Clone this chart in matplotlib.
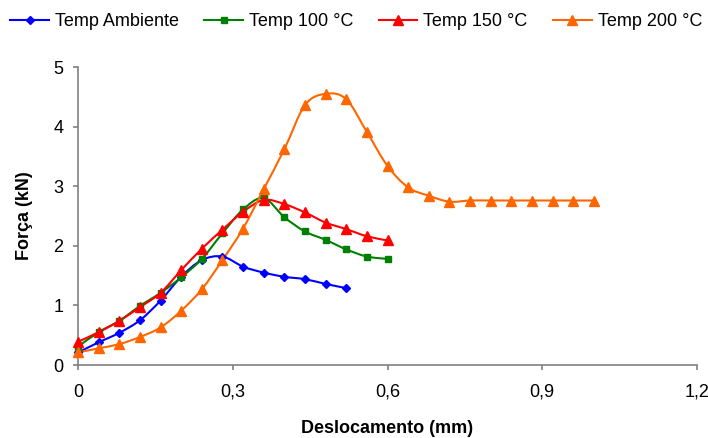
import numpy as np
import matplotlib
matplotlib.use("Agg")
import matplotlib.pyplot as plt
from matplotlib.path import Path
from matplotlib.patches import PathPatch
from matplotlib.lines import Line2D
from matplotlib.ticker import FuncFormatter

plt.rcParams['font.family'] = ['Liberation Sans', 'DejaVu Sans']

# deslocamento (mm), step 0.04
x_amb = [0, 0.04, 0.08, 0.12, 0.16, 0.20, 0.24, 0.28, 0.32, 0.36, 0.40, 0.44, 0.48, 0.52]
f_amb = [0.21, 0.38, 0.54, 0.75, 1.08, 1.48, 1.76, 1.82, 1.65, 1.55, 1.48, 1.44, 1.36, 1.29]

x_100 = [0, 0.04, 0.08, 0.12, 0.16, 0.20, 0.24, 0.28, 0.32, 0.36, 0.40, 0.44, 0.48, 0.52, 0.56, 0.60]
f_100 = [0.31, 0.55, 0.74, 0.99, 1.21, 1.47, 1.78, 2.21, 2.61, 2.80, 2.48, 2.24, 2.10, 1.94, 1.82, 1.78]

x_150 = [0, 0.04, 0.08, 0.12, 0.16, 0.20, 0.24, 0.28, 0.32, 0.36, 0.40, 0.44, 0.48, 0.52, 0.56, 0.60]
f_150 = [0.39, 0.55, 0.74, 0.97, 1.21, 1.59, 1.95, 2.27, 2.57, 2.77, 2.70, 2.56, 2.39, 2.28, 2.16, 2.09]

x_200 = [0, 0.04, 0.08, 0.12, 0.16, 0.20, 0.24, 0.28, 0.32, 0.36, 0.40, 0.44, 0.48, 0.52,
         0.56, 0.60, 0.64, 0.68, 0.72, 0.76, 0.80, 0.84, 0.88, 0.92, 0.96, 1.00]
f_200 = [0.21, 0.28, 0.35, 0.47, 0.63, 0.91, 1.27, 1.76, 2.29, 2.95, 3.62, 4.36, 4.55, 4.46,
         3.91, 3.34, 2.98, 2.84, 2.74, 2.76, 2.76, 2.76, 2.76, 2.76, 2.76, 2.76]

series = [
    ("Temp Ambiente", x_amb, f_amb, "#0000FF", "D", 4.5),
    ("Temp 100 °C", x_100, f_100, "#008000", "s", 5),
    ("Temp 150 °C", x_150, f_150, "#FF0000", "^", 6.5),
    ("Temp 200 °C", x_200, f_200, "#FF6600", "^", 6.5),
]


def smooth_path(x, y):
    # excel-like smoothed line: cubic bezier through every point
    p = np.column_stack([x, y])
    n = len(p)
    verts = [p[0]]
    codes = [Path.MOVETO]
    for i in range(n - 1):
        p0 = p[i - 1] if i > 0 else p[i]
        p3 = p[i + 2] if i + 2 < n else p[i + 1]
        c1 = p[i] + (p[i + 1] - p0) / 6
        c2 = p[i + 1] - (p3 - p[i]) / 6
        verts += [c1, c2, p[i + 1]]
        codes += [Path.CURVE4] * 3
    return Path(verts, codes)


fig = plt.figure(figsize=(7.08, 4.38), dpi=100)
ax = fig.add_axes([78 / 708, 1 - 365 / 438, (697 - 78) / 708, (365 - 67) / 438])

handles = []
for name, xs, ys, col, mk, ms in series:
    ax.add_patch(PathPatch(smooth_path(xs, ys), facecolor='none', edgecolor=col, lw=1.5, zorder=2))
    ax.plot(xs, ys, ls='none', marker=mk, color=col, ms=ms, zorder=3, clip_on=False)
    handles.append(Line2D([], [], color=col, lw=1.5, marker=mk, ms=ms, label=name))

ax.set_xlim(0, 1.2)
ax.set_ylim(0, 5)
ax.set_xticks([0, 0.3, 0.6, 0.9, 1.2])
ax.set_yticks([0, 1, 2, 3, 4, 5])
ax.xaxis.set_major_formatter(FuncFormatter(lambda v, p: ('%g' % round(v, 2)).replace('.', ',')))
for s in ['top', 'right']:
    ax.spines[s].set_visible(False)
for s in ['left', 'bottom']:
    ax.spines[s].set_color('#808080')
    ax.spines[s].set_linewidth(1.2)
ax.tick_params(axis='both', colors='#808080', labelcolor='black', labelsize=13, length=3.6, width=1.2, direction='out')
ax.tick_params(axis='x', pad=10)
ax.tick_params(axis='y', pad=7)

ax.set_xlabel("Deslocamento (mm)", fontsize=13, fontweight='bold')
ax.xaxis.set_label_coords(0.5, -0.186)
ax.set_ylabel("Força (kN)", fontsize=13, fontweight='bold')
ax.yaxis.set_label_coords(-0.073, 0.5)

fig.legend(handles=handles, loc='center', bbox_to_anchor=(0.503, 1 - 21.5 / 438), ncol=4, frameon=False,
           fontsize=13, handlelength=2.15, handletextpad=0.33, columnspacing=1.4, borderpad=0.1)

fig.savefig("out.png", dpi=100)
